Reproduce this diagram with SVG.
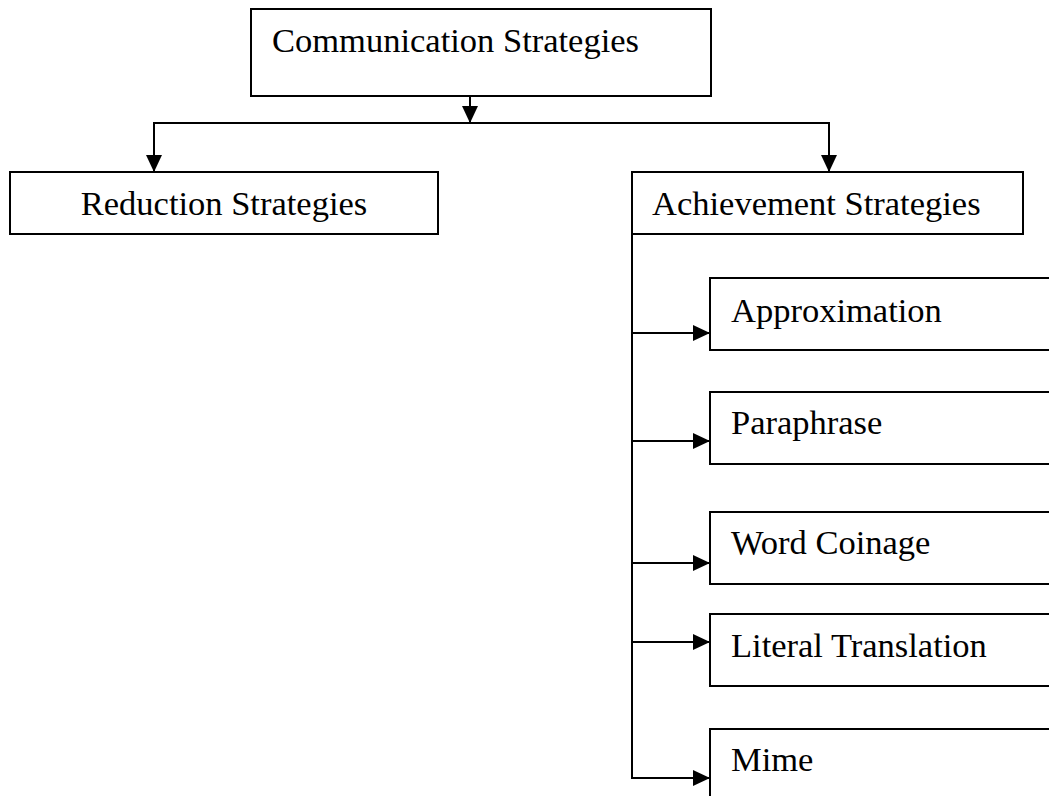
<svg xmlns="http://www.w3.org/2000/svg" width="1049" height="796" viewBox="0 0 1049 796">
  <style>
    .box { fill: #ffffff; stroke: #000000; stroke-width: 2; }
    .label { font-family: "Liberation Serif", "Times New Roman", serif; font-size: 34.5px; fill: #000000; }
    .wire { fill: none; stroke: #000000; stroke-width: 2; }
  </style>
  <defs>
    <marker id="arrow" viewBox="0 0 17 16" refX="17" refY="8" markerWidth="17" markerHeight="16" markerUnits="userSpaceOnUse" orient="auto">
      <path d="M0,0 L17,8 L0,16 Z" fill="#000000"/>
    </marker>
  </defs>
  <rect width="1049" height="796" fill="#ffffff"/>

  <!-- connectors -->
  <g id="connectors">
    <line class="wire" x1="470" y1="96" x2="470" y2="123" marker-end="url(#arrow)"/>
    <polyline class="wire" points="154,160 154,123 829,123 829,160"/>
    <line class="wire" x1="154" y1="123" x2="154" y2="172" marker-end="url(#arrow)"/>
    <line class="wire" x1="829" y1="123" x2="829" y2="172" marker-end="url(#arrow)"/>
    <line class="wire" x1="632" y1="234" x2="632" y2="779"/>
    <line class="wire" x1="632" y1="333" x2="710" y2="333" marker-end="url(#arrow)"/>
    <line class="wire" x1="632" y1="441" x2="710" y2="441" marker-end="url(#arrow)"/>
    <line class="wire" x1="632" y1="563" x2="710" y2="563" marker-end="url(#arrow)"/>
    <line class="wire" x1="632" y1="642" x2="710" y2="642" marker-end="url(#arrow)"/>
    <line class="wire" x1="632" y1="778" x2="710" y2="778" marker-end="url(#arrow)"/>
  </g>

  <g id="communication">
    <rect class="box" x="251" y="9" width="460" height="87"/>
    <text class="label" x="272" y="52">Communication Strategies</text>
  </g>

  <g id="reduction">
    <rect class="box" x="10" y="172" width="428" height="62"/>
    <text class="label" x="224" y="215" text-anchor="middle">Reduction Strategies</text>
  </g>

  <g id="achievement">
    <rect class="box" x="632" y="172" width="391" height="62"/>
    <text class="label" x="652" y="215">Achievement Strategies</text>
  </g>

  <g id="approximation">
    <rect class="box" x="710" y="278" width="360" height="72"/>
    <text class="label" x="731" y="322">Approximation</text>
  </g>

  <g id="paraphrase">
    <rect class="box" x="710" y="392" width="360" height="72"/>
    <text class="label" x="731" y="434">Paraphrase</text>
  </g>

  <g id="word-coinage">
    <rect class="box" x="710" y="512" width="360" height="72"/>
    <text class="label" x="731" y="554">Word Coinage</text>
  </g>

  <g id="literal-translation">
    <rect class="box" x="710" y="614" width="360" height="72"/>
    <text class="label" x="731" y="657">Literal Translation</text>
  </g>

  <g id="mime">
    <rect class="box" x="710" y="729" width="360" height="80"/>
    <text class="label" x="731" y="771">Mime</text>
  </g>
</svg>
